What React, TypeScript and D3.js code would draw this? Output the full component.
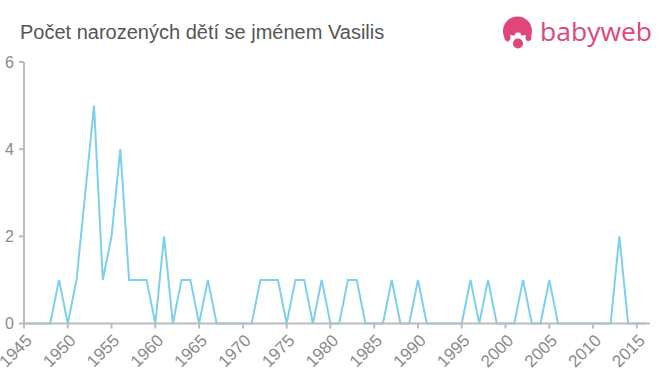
import * as d3 from 'd3';

const years = d3.range(1945, 2017);
const counts = [
  0, 0, 0, 0, 1, 0, 1, 3, 5, 1, // 1945-1954
  2, 4, 1, 1, 1, 0, 2, 0, 1, 1, // 1955-1964
  0, 1, 0, 0, 0, 0, 0, 1, 1, 1, // 1965-1974
  0, 1, 1, 0, 1, 0, 0, 1, 1, 0, // 1975-1984
  0, 0, 1, 0, 0, 1, 0, 0, 0, 0, // 1985-1994
  0, 1, 0, 1, 0, 0, 0, 1, 0, 0, // 1995-2004
  1, 0, 0, 0, 0, 0, 0, 0, 2, 0, // 2005-2014
  0, 0,                         // 2015-2016
];
const xTicks = d3.range(1945, 2016, 5);
const yTicks = [0, 2, 4, 6];

const TITLE = 'Počet narozených dětí se jménem Vasilis';
const FONT = '"Liberation Sans", Arial, Helvetica, sans-serif';
const AXIS = '#bbbbbb';
const LABEL = '#8a8a8a';
const LINE = '#7ccfee';
const PINK = '#e0457b';

export default function App() {
  const width = 660;
  const height = 375;
  const x = d3.scaleLinear().domain([1945, 2016.5]).range([24, 650]);
  const y = d3.scaleLinear().domain([0, 6]).range([323.5, 62]);
  const data = years.map((yr, i) => ({ yr, v: counts[i] }));
  const line = d3.line<{ yr: number; v: number }>().x(d => x(d.yr)).y(d => y(d.v));

  return (
    <svg width={width} height={height} style={{ position: 'absolute', left: 0, top: 0, background: '#fff' }}>
      <text x={20} y={39} fontFamily={FONT} fontSize={20} fill="#555">{TITLE}</text>

      {/* logo: head with hair, face and mouth */}
      <g>
        <circle cx={517.5} cy={31} r={14.5} fill={PINK} />
        <ellipse cx={518} cy={40} rx={10} ry={7.5} fill="#fff" />
        <circle cx={513} cy={33} r={2.5} fill={PINK} />
        <circle cx={523} cy={33} r={2.5} fill={PINK} />
        <circle cx={507.5} cy={38} r={3} fill={PINK} />
        <circle cx={528.5} cy={38} r={3} fill={PINK} />
        <circle cx={518} cy={43.5} r={5} fill={PINK} />
        <text x={540} y={41} fontFamily='"Open Sans", sans-serif' fontSize={25} fill={PINK}
          textLength={112} lengthAdjust="spacingAndGlyphs">babyweb</text>
      </g>

      {/* y axis */}
      <line x1={24} x2={24} y1={y(6)} y2={y(0)} stroke={AXIS} strokeWidth={2} />
      {yTicks.map(t => (
        <g key={t}>
          <line x1={19} x2={24} y1={y(t)} y2={y(t)} stroke={AXIS} strokeWidth={2} />
          <text x={14} y={y(t)} dy="0.35em" textAnchor="end" fontFamily={FONT} fontSize={16} fill={LABEL}>{t}</text>
        </g>
      ))}

      <path d={line(data) ?? ''} fill="none" stroke={LINE} strokeWidth={2} strokeLinejoin="miter" />

      {/* x axis */}
      <line x1={24} x2={650} y1={y(0)} y2={y(0)} stroke={AXIS} strokeWidth={2} />
      {xTicks.map(t => (
        <g key={t} transform={`translate(${x(t)},${y(0)})`}>
          <line y1={0} y2={5} stroke={AXIS} strokeWidth={2} />
          <text transform="translate(9,18) rotate(-45)" textAnchor="end"
            fontFamily={FONT} fontSize={17} fill={LABEL}>{t}</text>
        </g>
      ))}
    </svg>
  );
}
